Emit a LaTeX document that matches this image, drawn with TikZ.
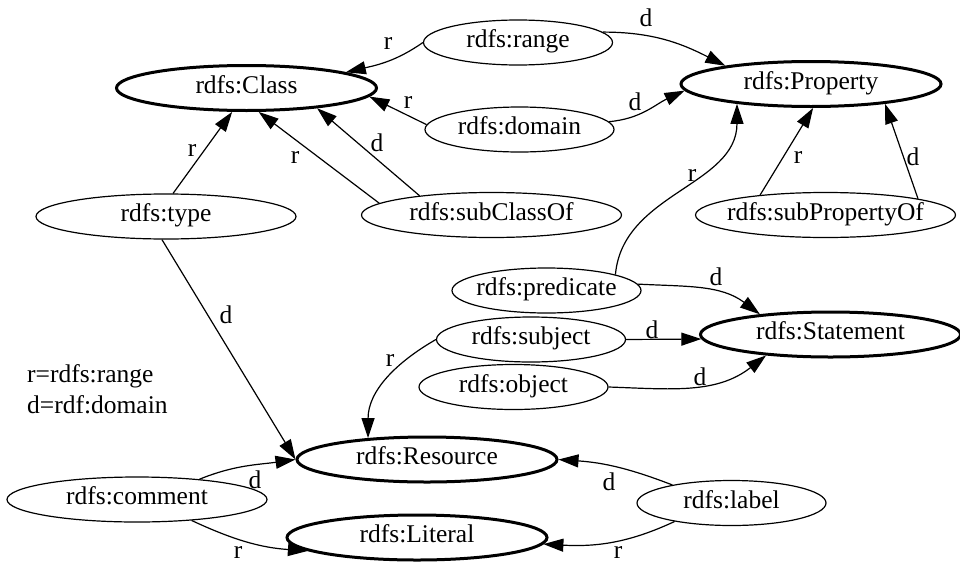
\documentclass[tikz,border=0pt]{standalone}
\usepackage{fontspec}
\setmainfont{Liberation Serif}
\newfontfamily\diagfont{Liberation Serif}
\usetikzlibrary{shapes.geometric,arrows.meta}
\newcommand\nt[1]{\makebox[0pt]{#1}}
\begin{document}
\begin{tikzpicture}[x=1pt,y=-1pt,
  font=\diagfont\fontsize{25.5}{30}\selectfont,
  ell/.style={ellipse, draw, minimum height=45pt, inner sep=0pt, text height=16pt, text depth=6pt},
  thickell/.style={ell, line width=3pt, minimum width=260pt},
  thinbig/.style={ell, line width=1.2pt, minimum width=260pt},
  thinsmall/.style={ell, line width=1.2pt, minimum width=189pt},
  lnk/.style={line width=1.2pt, -{Triangle[length=20pt,width=13pt]}},
  lbl/.style={inner sep=0pt},
  legend/.style={inner sep=0pt, anchor=base west}
]
\useasboundingbox (0,0) rectangle (960,562);

% nodes
\node[thickell]  (Class)         at (246.5,88)   {\nt{rdfs:Class}};
\node[thinsmall] (range)         at (518,42.5)   {\nt{rdfs:range}};
\node[thinsmall] (domain)        at (519.5,129.5){\nt{rdfs:domain}};
\node[thickell]  (Property)      at (811,84)     {\nt{rdfs:Property}};
\node[thinbig]   (type)          at (166,216.5)  {\nt{rdfs:type}};
\node[thinbig]   (subClassOf)    at (491.5,215)  {\nt{rdfs:subClassOf}};
\node[thinbig]   (subPropertyOf) at (825.5,215)  {\nt{rdfs:subPropertyOf}};
\node[thinsmall] (predicate)     at (546.5,290.5){\nt{rdfs:predicate}};
\node[thinsmall] (subject)       at (531,339.5)  {\nt{rdfs:subject}};
\node[thinsmall] (object)        at (513.5,387)  {\nt{rdfs:object}};
\node[thickell]  (Statement)     at (830.5,334.5){\nt{rdfs:Statement}};
\node[thickell]  (Resource)      at (427,459.5)  {\nt{rdfs:Resource}};
\node[thickell]  (Literal)       at (417,537.5)  {\nt{rdfs:Literal}};
\node[thinbig]   (comment)       at (137,499.5)  {\nt{rdfs:comment}};
\node[thinsmall] (label)         at (731.5,503)  {\nt{rdfs:label}};

% legend
\node[legend] (leg1) at (27,382) {r=rdfs:range};
\node[legend] (leg2) at (27,413) {d=rdf:domain};

% connectors
\draw[lnk] (range.180) to[out=215,in=13] (Class.9);
\draw[lnk] (range.7) to[out=0,in=153] (Property.168);
\draw[lnk] (domain.177) -- (Class.-4);
\draw[lnk] (domain.5) to[out=5,in=205] (Property.183);
\draw[lnk] (subClassOf.174) -- (Class.-63);
\draw[lnk] (subClassOf.165) -- (Class.-16);
\draw[lnk] (type.73) -- (Class.-121);
\draw[lnk] (type.-100) -- (Resource.180);
\draw[lnk] (predicate.13) to[out=85,in=-90] (Property.195);
\draw[lnk] (predicate.4) to[out=-3,in=143] (Statement.164);
\draw[lnk] (subject.east) -- (Statement.182);
\draw[lnk] (subject.west) to[out=210,in=90] (Resource.160);
\draw[lnk] (object.east) to[out=-2,in=218] (Statement.198);
\draw[lnk] (subPropertyOf.163) -- (Property.-85);
\draw[lnk] (subPropertyOf.10) -- (Property.-15);
\draw[lnk] (comment.18) to[out=22,in=188] (Resource.180);
\draw[lnk] (comment.-21) to[out=-25,in=176] (Literal.187);
\draw[lnk] (label.163) to[out=159,in=-4] (Resource.0);
\draw[lnk] (label.198) to[out=205,in=-3] (Literal.-3);

% connector labels
\node[lbl] (l1)  at (388,43)  {r};
\node[lbl] (l2)  at (646,18)  {d};
\node[lbl] (l3)  at (408,102) {r};
\node[lbl] (l4)  at (635,102) {d};
\node[lbl] (l5)  at (295,157) {r};
\node[lbl] (l6)  at (377,143) {d};
\node[lbl] (l7)  at (192,150) {r};
\node[lbl] (l8)  at (226,315) {d};
\node[lbl] (l9)  at (692,175) {r};
\node[lbl] (l10) at (716,277) {d};
\node[lbl] (l11) at (652,330) {d};
\node[lbl] (l12) at (390,360) {r};
\node[lbl] (l13) at (700,377) {d};
\node[lbl] (l14) at (798,157) {r};
\node[lbl] (l15) at (913,157) {d};
\node[lbl] (l16) at (255,480) {d};
\node[lbl] (l17) at (238,552) {r};
\node[lbl] (l18) at (609,482) {d};
\node[lbl] (l19) at (618,552) {r};
\end{tikzpicture}
\end{document}
